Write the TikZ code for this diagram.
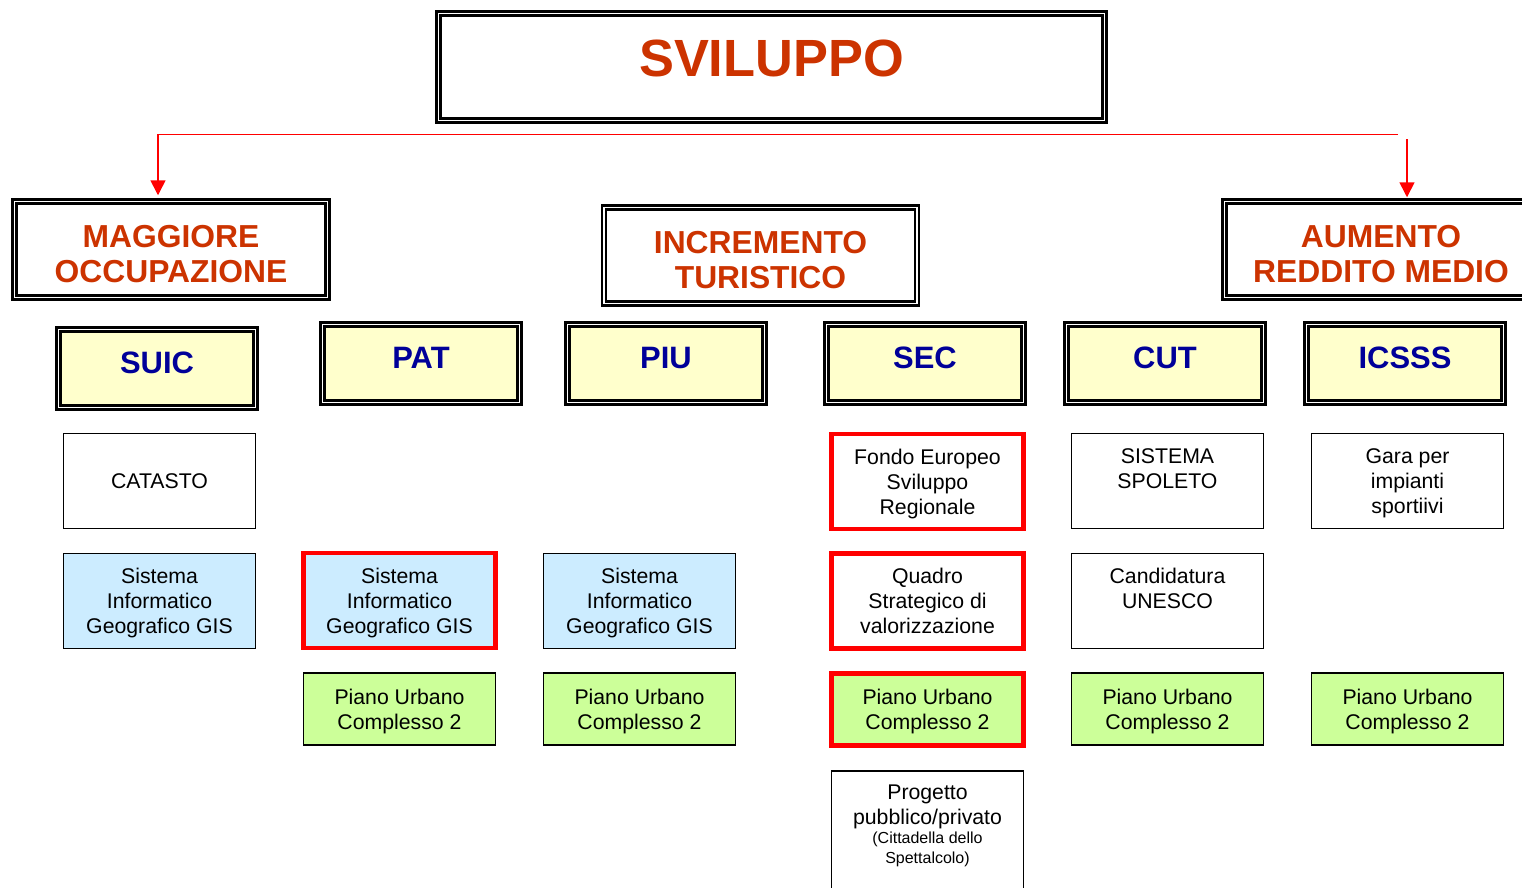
\documentclass[tikz,border=0pt]{standalone}
\usepackage{fontspec}
\setmainfont{Liberation Sans}
\usetikzlibrary{arrows.meta}
\newlength\ux \setlength\ux{0.02cm}
\definecolor{titlered}{HTML}{CC3300}
\definecolor{navyblue}{HTML}{000099}
\definecolor{paleyellow}{HTML}{FFFFCC}
\definecolor{paleblue}{HTML}{CCECFF}
\definecolor{palegreen}{HTML}{CCFF99}
\definecolor{pured}{HTML}{FF0000}
\begin{document}
\begin{tikzpicture}[x=0.02cm,y=-0.02cm,
  dblbox/.style={draw=black, double=white, line width=1.42pt, double distance=1.1pt, inner sep=0pt},
  titlebox/.style={dblbox, minimum width=666*\ux, minimum height=107*\ux, text depth=18*\ux,
     font=\fontsize{29.8}{34}\selectfont\bfseries, text=titlered},
  headbox/.style={dblbox, minimum width=313*\ux, minimum height=96*\ux, align=center, text height=38pt, text depth=0pt,
     font=\fontsize{18.1}{20.4}\selectfont\bfseries, text=titlered},
  yelbox/.style={dblbox, fill=paleyellow, minimum width=197*\ux, minimum height=78*\ux, text depth=12*\ux,
     font=\fontsize{17.6}{20}\selectfont\bfseries, text=navyblue},
  smallbox/.style={draw=black, line width=1pt, inner sep=0pt, minimum width=192*\ux, minimum height=95*\ux,
     align=center, text depth=0pt, font=\fontsize{12.1}{14.2}\selectfont},
  redbox/.style={smallbox, draw=pured, line width=2.83pt},
  lowbox/.style={minimum height=72*\ux},
  gisfill/.style={fill=paleblue},
  pufill/.style={fill=palegreen},
  redarrow/.style={draw=pured, line width=0.9pt, -{Triangle[width=8.5pt,length=8.5pt]}}
]
\useasboundingbox (0,0) rectangle (1522,887);

% title
\node[titlebox] (svil) at (771.5,67) {SVILUPPO};

% level 2
\node[headbox] (magg) at (171,249.5) {MAGGIORE\\OCCUPAZIONE};
\node[headbox] (incr) at (760.5,255.5) {INCREMENTO\\TURISTICO};
\node[headbox] (aum) at (1381,249.5) {AUMENTO\\REDDITO MEDIO};

% red connectors
\coordinate (hl) at (158,134.5);
\coordinate (hr) at (1398,134.5);
\coordinate (rt) at (1407,139);
\draw[redarrow, shorten >=5*\ux] (hr) -- (hl) -- (hl |- magg.north);
\draw[redarrow, shorten >=3*\ux] (rt) -- (rt |- aum.north);

% yellow boxes
\node[yelbox] (suic) at (157,368.5) {SUIC};
\node[yelbox] (pat) at (421,363.5) {PAT};
\node[yelbox] (piu) at (666,363.5) {PIU};
\node[yelbox] (sec) at (925,363.5) {SEC};
\node[yelbox] (cut) at (1165,363.5) {CUT};
\node[yelbox] (icsss) at (1405,363.5) {ICSSS};

% column 1
\node[smallbox] (catasto) at (159.5,481) {CATASTO};
\node[smallbox, gisfill] (gis1) at (159.5,601) {Sistema\\Informatico\\Geografico GIS};

% column 2
\node[redbox, gisfill] (gis2) at (399.5,600.5) {Sistema\\Informatico\\Geografico GIS};
\node[smallbox, lowbox, pufill] (pu2) at (399.5,709) {Piano Urbano\\Complesso 2};

% column 3
\node[smallbox, gisfill] (gis3) at (639.5,601) {Sistema\\Informatico\\Geografico GIS};
\node[smallbox, lowbox, pufill] (pu3) at (639.5,709) {Piano Urbano\\Complesso 2};

% column 4
\node[redbox] (fondo) at (927.5,481.5) {Fondo Europeo\\Sviluppo\\Regionale};
\node[redbox] (quadro) at (927.5,601) {Quadro\\Strategico di\\valorizzazione};
\node[redbox, lowbox, pufill] (pu4) at (927.5,709.5) {Piano Urbano\\Complesso 2};
\node[smallbox, minimum height=130*\ux, anchor=north] (prog) at (927.5,770) {};
\node[anchor=north, align=center, inner sep=0pt, font=\fontsize{12.1}{14.2}\selectfont] (progtxt) at (927.5,785)
  {Progetto\\pubblico/privato\\[-3.8pt]{\fontsize{9.1}{11.3}\selectfont (Cittadella dello}\\[-2.6pt]{\fontsize{9.1}{11.3}\selectfont Spettalcolo)}};

% column 5
\node[smallbox] (spoleto) at (1167.5,481) {SISTEMA\\SPOLETO\\~};
\node[smallbox] (unesco) at (1167.5,601) {Candidatura\\UNESCO\\~};
\node[smallbox, lowbox, pufill] (pu5) at (1167.5,709) {Piano Urbano\\Complesso 2};

% column 6
\node[smallbox] (gara) at (1407.5,481) {Gara per\\impianti\\sportiivi};
\node[smallbox, lowbox, pufill] (pu6) at (1407.5,709) {Piano Urbano\\Complesso 2};
\end{tikzpicture}
\end{document}
